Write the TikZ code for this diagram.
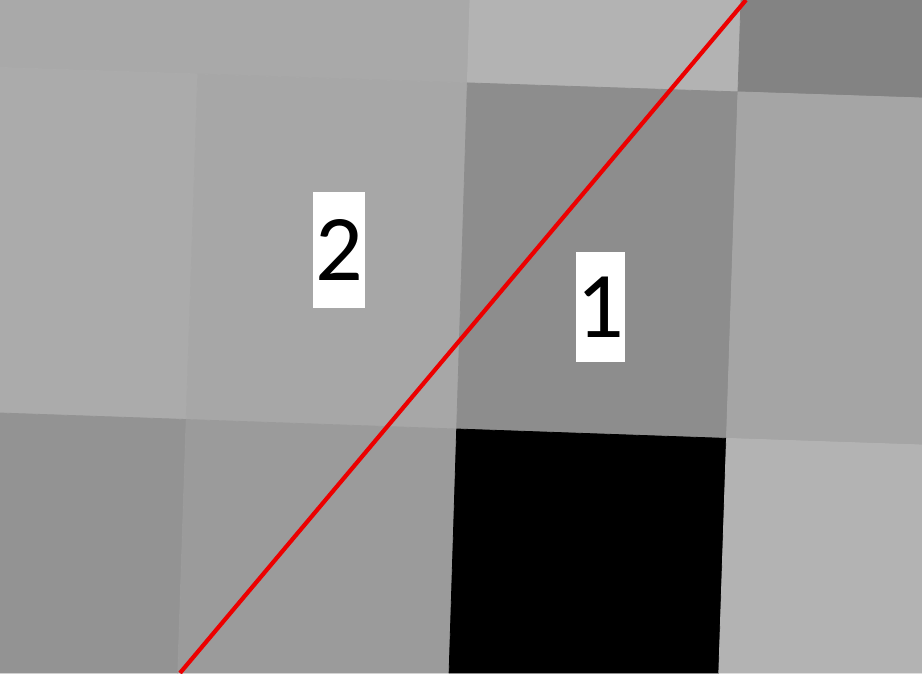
\documentclass[tikz,border=0pt]{standalone}
\usepackage{fontspec}
\setmainfont{Carlito}
\definecolor{cTopA}{gray}{0.663}
\definecolor{cTopB}{gray}{0.702}
\definecolor{cTopC}{gray}{0.514}
\definecolor{cA}{gray}{0.671}
\definecolor{cB}{gray}{0.655}
\definecolor{cC}{gray}{0.553}
\definecolor{cD}{gray}{0.647}
\definecolor{cE}{gray}{0.576}
\definecolor{cF}{gray}{0.608}
\definecolor{cG}{gray}{0.702}
\definecolor{lineRed}{RGB}{236,0,0}
\tikzset{
  cell/.style={fill=#1, draw=#1, line width=0.8pt, line join=round},
  label box/.style={fill=white, inner sep=0pt, font=\fontsize{94}{94}\selectfont, text=black},
  cut line/.style={draw=lineRed, line width=4.2pt}
}
\begin{document}
\begin{tikzpicture}[x=1pt,y=-1pt]
\useasboundingbox (0,0) rectangle (922,673);
% top row
\path[cell=cTopA] (0,0) -- (470,0) -- (467.4,82.9) -- (197.8,74) -- (0,67.5) -- cycle;
\path[cell=cTopB] (470,0) -- (741,0) -- (738,91.9) -- (467.4,82.9) -- cycle;
\path[cell=cTopC] (741,0) -- (922,0) -- (922,98) -- (738,91.9) -- cycle;
% middle row
\path[cell=cA] (0,67.5) -- (197.8,74) -- (186.2,419.5) -- (0,413) -- cycle;
\path[cell=cB] (197.8,74) -- (467.4,82.9) -- (456.7,429) -- (186.2,419.5) -- cycle;
\path[cell=cC] (467.4,82.9) -- (738,91.9) -- (726.5,438.4) -- (456.7,429) -- cycle;
\path[cell=cD] (738,91.9) -- (922,98) -- (922,445) -- (726.5,438.4) -- cycle;
% bottom row
\path[cell=cE] (0,413) -- (186.2,419.5) -- (177.8,673) -- (0,673) -- cycle;
\path[cell=cF] (186.2,419.5) -- (456.7,429) -- (449.1,673) -- (177.8,673) -- cycle;
\path[cell=black] (456.7,429) -- (726.5,438.4) -- (718.8,673) -- (449.1,673) -- cycle;
\path[cell=cG] (726.5,438.4) -- (922,445) -- (922,673) -- (718.8,673) -- cycle;
% red line
\coordinate (lineBottom) at (180,673);
\coordinate (lineTop) at (746,0);
\draw[cut line] (lineBottom) -- (lineTop);
% labels
\node[label box, minimum width=52pt, minimum height=116pt] (labelTwo) at (339,250) {2};
\node[label box, minimum width=49pt, minimum height=110pt] (labelOne) at (600.5,307) {1};
\end{tikzpicture}
\end{document}
